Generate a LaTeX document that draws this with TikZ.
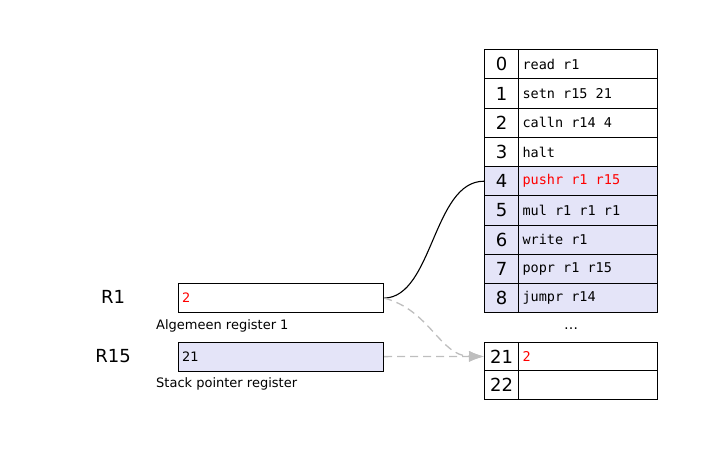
\documentclass[tikz,border=0pt]{standalone}
\usepackage{fontspec}
\setmainfont{DejaVu Sans}
\setmonofont{DejaVu Sans Mono}
\usetikzlibrary{arrows.meta}
\definecolor{lav}{RGB}{228,228,248}
\definecolor{dgray}{RGB}{190,190,190}
\begin{document}
\begin{tikzpicture}[x=1pt,y=-1pt,
  numcell/.style={draw=black, line width=1.2pt, minimum width=34pt, minimum height=29.25pt, inner sep=0pt, anchor=north west, font=\fontsize{18}{18}\selectfont},
  inscell/.style={draw=black, line width=1.2pt, text width=131pt, inner xsep=4pt, inner ysep=0pt, minimum height=29.25pt, align=left, anchor=north west, font=\fontsize{13.5}{13.5}\selectfont\ttfamily},
  regbox/.style={draw=black, line width=1.2pt, text width=198pt, inner xsep=3.5pt, inner ysep=0pt, minimum height=29pt, align=left, anchor=north west, font=\fontsize{13}{13}\selectfont},
  biglabel/.style={font=\fontsize{18}{18}\selectfont, inner sep=0pt},
  caption/.style={font=\fontsize{13}{13}\selectfont, inner sep=0pt, anchor=west},
  link/.style={line width=1.1pt, black},
  ptr/.style={line width=1.3pt, dgray, dash pattern=on 8pt off 5pt, -{Latex[length=15pt,width=11pt]}}
]
\useasboundingbox (0,0) rectangle (707,450);

\foreach \i/\t/\f/\c in {0/read r1/white/black, 1/setn r15 21/white/black, 2/calln r14 4/white/black, 3/halt/white/black, 4/pushr r1 r15/lav/red, 5/mul r1 r1 r1/lav/black, 6/write r1/lav/black, 7/popr r1 r15/lav/black, 8/jumpr r14/lav/black}{
  \node[numcell, fill=\f] (n\i) at (484,{49+29.25*\i}) {\i};
  \node[inscell, fill=\f, text=\c] (c\i) at (518,{49+29.25*\i}) {\spaceskip=0pt\xspaceskip=0pt\relax\t};
}

\node[font=\fontsize{14}{14}\selectfont, inner sep=0pt] (dots) at (571,329) {\ldots};

\node[numcell, fill=white, minimum height=28.75pt] (n21) at (484,341.5) {21};
\node[inscell, fill=white, text=red, minimum height=28.75pt] (c21) at (518,341.5) {2};
\node[numcell, fill=white, minimum height=28.75pt] (n22) at (484,370.25) {22};
\node[inscell, fill=white, minimum height=28.75pt] (c22) at (518,370.25) {};

\node[regbox, fill=white, text=red] (r1) at (178,283) {2};
\node[regbox, fill=lav] (r15) at (178,341.5) {21};

\node[biglabel] (l1) at (113,297) {R1};
\node[biglabel] (l15) at (113,356) {R15};
\node[caption] (a1) at (156,326) {Algemeen register 1};
\node[caption] (a15) at (156,384) {Stack pointer register};

\draw[link] (r1.east) .. controls (433,297) and (433,181) .. (n4.west);
\draw[ptr] (r1.east) .. controls (430,310) and (440,356) .. (n21.west);
\draw[ptr] (r15.east) -- (n21.west);
\end{tikzpicture}
\end{document}
